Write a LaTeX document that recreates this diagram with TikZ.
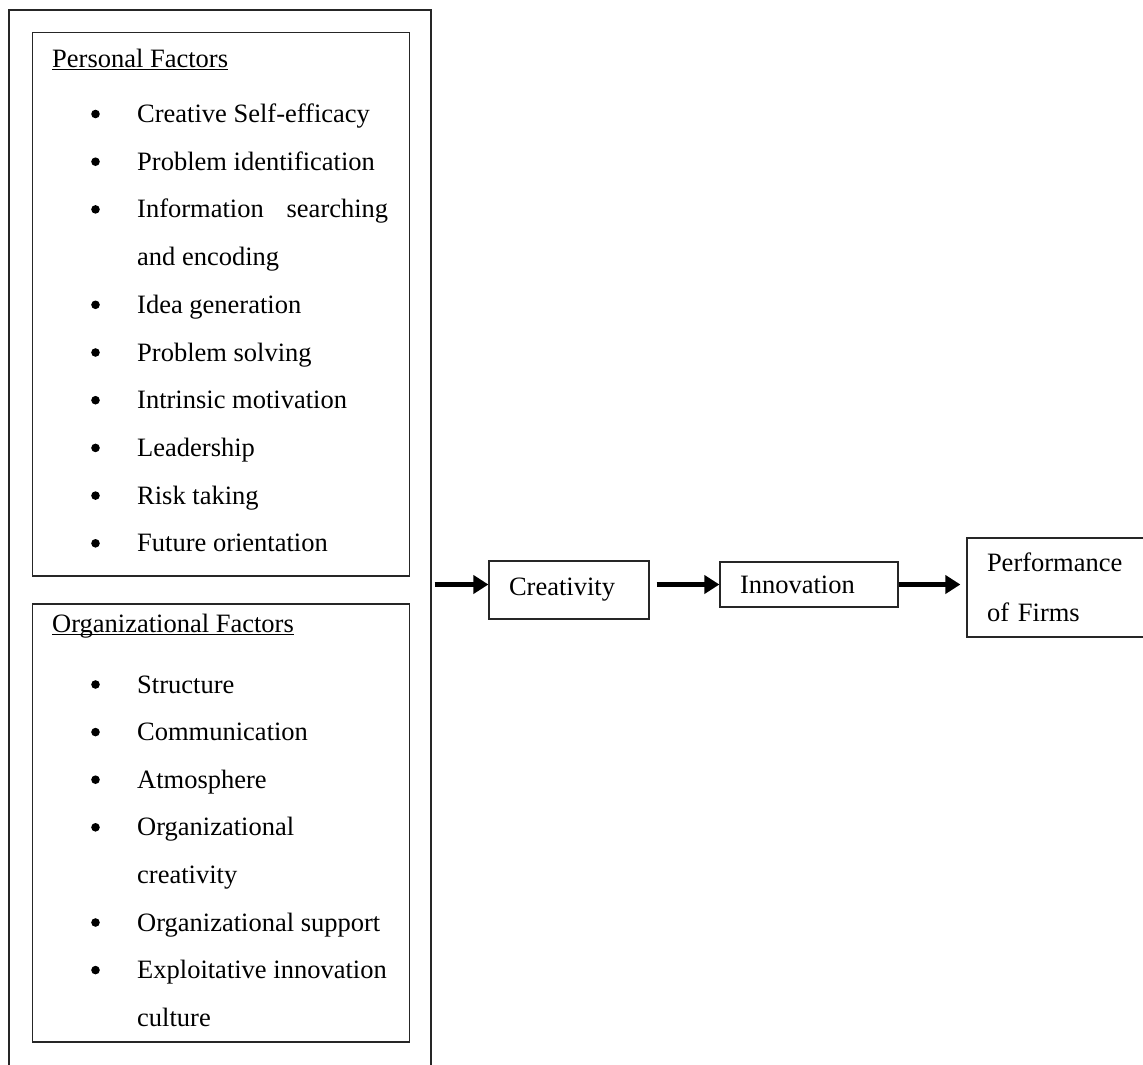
\documentclass[tikz,border=0pt]{standalone}
\usepackage{fontspec}
\setmainfont{Liberation Serif}
\usetikzlibrary{arrows.meta}

\begin{document}
\begin{tikzpicture}[x=1pt,y=-1pt,
  frame/.style={draw=black!85, line width=1.2pt, inner sep=0pt},
  txt/.style={anchor=base west, inner sep=0pt, font=\fontsize{26.5}{32}\selectfont},
  stage/.style={draw=black!85, line width=1.2pt, inner ysep=0pt, inner xsep=20pt,
    align=left, font=\fontsize{26.5}{50}\selectfont},
  arr/.style={line width=4.2pt, -{Triangle[length=15pt,width=18pt]}},
  hdrline/.style={line width=1.4pt},
  dotmark/.style={fill=black}
]
\useasboundingbox (0,0) rectangle (1143,1065);
\clip (0,0) rectangle (1143,1065);

% enclosing frame of the factor groups (runs off the bottom edge)
\node[frame, minimum width=422, minimum height=1080] (outer) at (220,550) {};

% factor group frames
\node[frame, minimum width=377, minimum height=543] (personal) at (221,304.4) {};
\node[frame, minimum width=377, minimum height=438] (organizational) at (221,823) {};

% personal factors
\node[txt] (pf) at (52,67) {Personal Factors};
\draw[hdrline] ([yshift=-2.5pt]pf.base west) -- ([yshift=-2.5pt]pf.base east);
\node[txt] (p1) at (137,122.5) {Creative Self-efficacy};
\node[txt] (p2) at (137,170.2) {Problem identification};
\node[txt] (p3) at (137,217.9) {\makebox[251pt][s]{Information searching}};
\node[txt] (p3b) at (137,265.6) {and encoding};
\node[txt] (p4) at (137,313.3) {Idea generation};
\node[txt] (p5) at (137,361) {Problem solving};
\node[txt] (p6) at (137,408.7) {Intrinsic motivation};
\node[txt] (p7) at (137,456.4) {Leadership};
\node[txt] (p8) at (137,504.1) {Risk taking};
\node[txt] (p9) at (137,551.8) {Future orientation};
\foreach \yy in {122.5,170.2,217.9,313.3,361,408.7,456.4,504.1,551.8}
  \fill[dotmark] (95.5,{\yy-8.5}) circle (4.3pt);

% organizational factors
\node[txt] (of) at (52,632) {Organizational Factors};
\draw[hdrline] ([yshift=-2.5pt]of.base west) -- ([yshift=-2.5pt]of.base east);
\node[txt] (o1) at (137,693) {Structure};
\node[txt] (o2) at (137,740.6) {Communication};
\node[txt] (o3) at (137,788.2) {Atmosphere};
\node[txt] (o4) at (137,835.8) {Organizational};
\node[txt] (o4b) at (137,883.4) {creativity};
\node[txt] (o5) at (137,931) {Organizational support};
\node[txt] (o6) at (137,978.6) {Exploitative innovation};
\node[txt] (o6b) at (137,1026.2) {culture};
\foreach \yy in {693,740.6,788.2,835.8,931,978.6}
  \fill[dotmark] (95.5,{\yy-8.5}) circle (4.3pt);

% outcome chain
\node[stage, minimum width=160, minimum height=58, text width=120] (creativity) at (569,590) {Creativity};
\node[stage, minimum width=178, minimum height=45, text width=138] (innovation) at (809,584.5) {Innovation};
\node[stage, minimum width=200, minimum height=99, text width=160] (performance) at (1067,587.5) {Performance\\of Firms};

\draw[arr, shorten <=3pt] (outer.east |- innovation) -- (creativity.west |- innovation);
\draw[arr, shorten <=7pt] (creativity.east |- innovation) -- (innovation.west);
\draw[arr, shorten >=6pt] (innovation.east) -- (performance.west |- innovation);
\end{tikzpicture}
\end{document}
